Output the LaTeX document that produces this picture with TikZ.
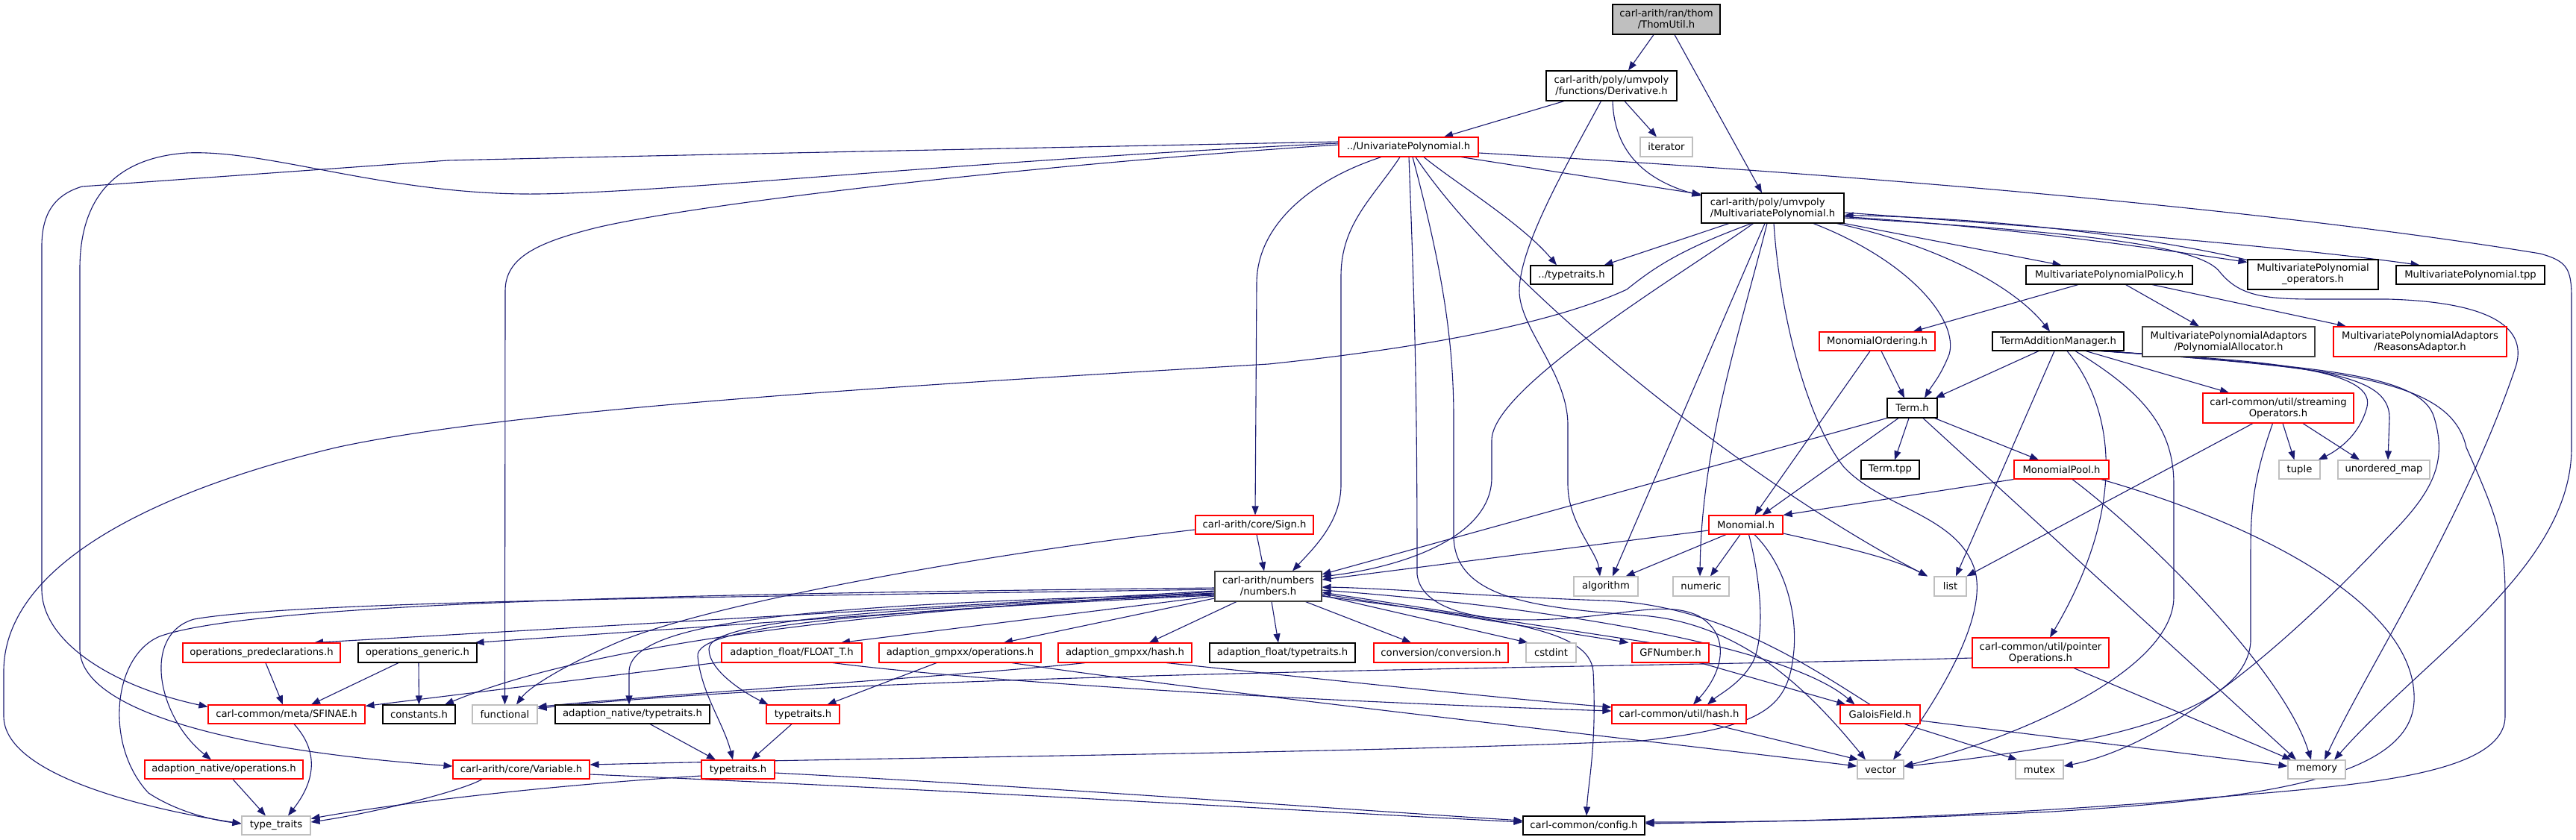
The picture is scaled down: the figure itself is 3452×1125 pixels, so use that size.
\documentclass[tikz,border=0pt]{standalone}
\usepackage{fontspec}
\setmainfont{DejaVu Sans}
\usetikzlibrary{arrows.meta}
\definecolor{edgec}{HTML}{191970}
\definecolor{greyn}{HTML}{BFBFBF}
\definecolor{dkb}{HTML}{404040}
\pgfdeclarelayer{bg}
\pgfsetlayers{bg,main}
\begin{document}
\begin{tikzpicture}[x=1pt,y=-1pt,
  font=\fontsize{13.2}{15}\selectfont,
  nb/.style={draw=black, line width=1.1pt, fill=white, inner sep=1pt, align=center, text=black},
  nr/.style={nb, draw=red},
  ng/.style={nb, draw=greyn},
  wh/.style 2 args={minimum width=#1pt, minimum height=#2pt},
  edg/.style={draw=edgec, line width=1.1pt, -{Triangle[length=12pt,width=9pt]}}]
\useasboundingbox (0,0) rectangle (3452,1125);
% nodes
\node[nb, fill=greyn, wh={144}{40}] (thom) at (2233,26) {carl-arith/ran/thom\\/ThomUtil.h};
\node[nb, wh={175}{40}] (deriv) at (2159.5,115) {carl-arith/poly/umvpoly\\/functions/Derivative.h};
\node[nr, wh={187}{26}] (univ) at (1887.5,197) {../UnivariatePolynomial.h};
\node[ng, wh={70}{26}] (iterator) at (2233,197) {iterator};
\node[nb, align=left, wh={191}{40}] (mp) at (2375.5,279) {carl-arith/poly/umvpoly\\/MultivariatePolynomial.h};
\node[nb, wh={110}{25}] (dtt) at (2106,368.5) {../typetraits.h};
\node[nb, wh={223}{25}] (policy) at (2826.5,368.5) {MultivariatePolynomialPolicy.h};
\node[nb, wh={175}{40}] (mpops) at (3099.5,368) {MultivariatePolynomial\\\_operators.h};
\node[nb, wh={199}{25}] (mptpp) at (3310.5,368.5) {MultivariatePolynomial.tpp};
\node[nr, wh={155}{25}] (monord) at (2515.5,457.5) {MonomialOrdering.h};
\node[nb, wh={176}{25}] (tam) at (2758,457.5) {TermAdditionManager.h};
\node[nb, draw=dkb, wh={231}{40}] (palloc) at (2986.5,458) {MultivariatePolynomialAdaptors\\/PolynomialAllocator.h};
\node[nr, wh={232}{40}] (reasons) at (3243,458) {MultivariatePolynomialAdaptors\\/ReasonsAdaptor.h};
\node[nb, wh={67}{26}] (term) at (2562.5,547) {Term.h};
\node[nr, wh={202}{40}] (stream) at (3053,547) {carl-common/util/streaming\\Operators.h};
\node[nr, wh={158}{25}] (sign) at (1681,703.5) {carl-arith/core/Sign.h};
\node[nb, draw=dkb, wh={143}{40}] (numbers) at (1699.5,786) {carl-arith/numbers\\/numbers.h};
\node[nb, wh={78}{25}] (termtpp) at (2533,629.5) {Term.tpp};
\node[nr, wh={127}{25}] (mpool) at (2762.5,629.5) {MonomialPool.h};
\node[ng, wh={55}{25}] (tuple) at (3081.5,629.5) {tuple};
\node[ng, wh={123}{25}] (umap) at (3194.5,629.5) {unordered\_map};
\node[nr, wh={99}{25}] (monomial) at (2339.5,703.5) {Monomial.h};
\node[ng, wh={86}{26}] (algorithm) at (2152,786) {algorithm};
\node[ng, wh={75}{26}] (numeric) at (2279.5,786) {numeric};
\node[ng, wh={43}{26}] (list) at (2613.5,786) {list};
\node[nr, wh={183}{40}] (pointer) at (2734.5,875) {carl-common/util/pointer\\Operations.h};
\node[nr, wh={211}{26}] (opspre) at (350.5,875) {operations\_predeclarations.h};
\node[nb, wh={159}{26}] (opsgen) at (559.5,875) {operations\_generic.h};
\node[nr, wh={188}{26}] (floatt) at (1061,875) {adaption\_float/FLOAT\_T.h};
\node[nr, wh={217}{26}] (gmpops) at (1286.5,875) {adaption\_gmpxx/operations.h};
\node[nr, wh={179}{26}] (gmphash) at (1507.5,875) {adaption\_gmpxx/hash.h};
\node[nb, wh={195}{26}] (floattt) at (1718.5,875) {adaption\_float/typetraits.h};
\node[nr, wh={180}{26}] (conv) at (1931,875) {conversion/conversion.h};
\node[ng, wh={67}{26}] (cstdint) at (2078.5,875) {cstdint};
\node[nr, wh={103}{26}] (gfnum) at (2238.5,875) {GFNumber.h};
\node[nr, wh={210}{25}] (sfinae) at (384,957.5) {carl-common/meta/SFINAE.h};
\node[nb, wh={97}{25}] (constants) at (561.5,957.5) {constants.h};
\node[ng, wh={87}{25}] (functional) at (676.5,957.5) {functional};
\node[nb, wh={207}{25}] (nattt) at (847.5,957.5) {adaption\_native/typetraits.h};
\node[nr, wh={98}{25}] (ttup) at (1076,957.5) {typetraits.h};
\node[nr, wh={180}{25}] (uhash) at (2250,957.5) {carl-common/util/hash.h};
\node[nr, wh={107}{25}] (galois) at (2519.5,957.5) {GaloisField.h};
\node[nr, wh={212}{25}] (natops) at (300,1031.5) {adaption\_native/operations.h};
\node[nr, wh={183}{25}] (variable) at (698.5,1031.5) {carl-arith/core/Variable.h};
\node[nr, wh={98}{25}] (ttlo) at (989,1031.5) {typetraits.h};
\node[ng, wh={62}{25}] (vector) at (2520,1031.5) {vector};
\node[ng, wh={64}{25}] (mutex) at (2733,1031.5) {mutex};
\node[ng, wh={77}{25}] (memory) at (3104.5,1031.5) {memory};
\node[ng, wh={92}{25}] (typetr) at (370,1106.5) {type\_traits};
\node[nb, wh={163}{25}] (config) at (2122.5,1106.5) {carl-common/config.h};
\begin{pgfonlayer}{bg}
\fill[white] (0,0) rectangle (3452,1125);
% thom
\draw[edg] ([xshift=-17]thom.south) -- ([xshift=22.5]deriv.north);
\draw[edg] ([xshift=11]thom.south) -- ([xshift=-14.5]mp.north);
% deriv
\draw[edg] ([xshift=-63.5]deriv.south) -- ([xshift=47.5]univ.north);
\draw[edg] ([xshift=17.5]deriv.south) -- ([xshift=-13]iterator.north);
\draw[edg] ([xshift=-14]deriv.south) .. controls (2100,220) and (2036,330) .. (2036,390) .. controls (2036,440) and (2101,500) .. (2101,570) -- (2101,650) .. controls (2101,700) and (2140,740) .. ([xshift=-8]algorithm.north);
\draw[edg] ([xshift=1.5]deriv.south) .. controls (2163,200) and (2200,240) .. ([yshift=-4]mp.north west);
% univ
\draw[edg] ([xshift=70.5]univ.south) -- ([yshift=-2]mp.north west);
\draw[edg] ([yshift=-8]univ.east) .. controls (2600,240) and (3100,290) .. (3404,340) .. controls (3440,350) and (3446,360) .. (3446,400) -- (3446,600) .. controls (3446,760) and (3250,880) .. ([xshift=23.5]memory.north);
\draw[edg] ([xshift=20.5]univ.south) .. controls (1950,245) and (2040,300) .. ([xshift=-20]dtt.north);
\draw[edg] ([xshift=9.5]univ.south) .. controls (2010,380) and (2330,640) .. ([xshift=-30.5]list.north);
\draw[edg] ([xshift=-11.5]univ.south) .. controls (1840,265) and (1797,300) .. (1797,370) -- (1797,650) .. controls (1797,700) and (1760,735) .. ([xshift=32.5]numbers.north);
\draw[edg] ([xshift=-36.5]univ.south) .. controls (1760,240) and (1684,300) .. (1684,380) -- ([xshift=1]sign.north);
\draw[edg] ([xshift=0.5]univ.south) .. controls (1895,400) and (1899,500) .. (1899,770) .. controls (1905,820) and (1990,835) .. (2080,830) .. controls (2180,825) and (2230,805) .. (2275,825) .. controls (2320,850) and (2310,900) .. ([xshift=19]uhash.north);
\draw[edg] ([xshift=5.5]univ.south) .. controls (1930,350) and (1948,450) .. (1948,560) -- (1948,720) .. controls (1950,800) and (2050,815) .. (2200,825) .. controls (2330,835) and (2420,920) .. ([xshift=-20]vector.north);
\draw[edg] ([yshift=7]univ.west) .. controls (1400,198) and (900,208) .. (600,215) -- (110,250) .. controls (70,262) and (56,290) .. (56,330) -- (56,790) .. controls (56,860) and (150,920) .. ([yshift=-3]sfinae.north west);
\draw[edg] ([yshift=5]univ.west) .. controls (1300,215) and (900,258) .. (720,260) .. controls (520,262) and (360,200) .. (250,205) .. controls (150,212) and (107,270) .. (107,360) -- (107,870) .. controls (107,950) and (300,1005) .. ([yshift=4.5]variable.west);
\draw[edg] ([yshift=3]univ.west) .. controls (1400,220) and (950,270) .. (800,305) .. controls (720,325) and (677,345) .. (677,390) -- (functional.north);
% MP
\draw[edg] ([xshift=-58.5]mp.south) -- ([xshift=-12]dtt.north east);
\draw[edg] ([xshift=-28.5]mp.south) .. controls (2250,335) and (2215,360) .. (2180,388) .. controls (2100,425) and (1950,462) .. (1700,488) .. controls (1300,512) and (700,545) .. (450,600) .. controls (200,660) and (5,760) .. (5,900) -- (5,960) .. controls (5,1040) and (200,1085) .. ([yshift=2.5]typetr.west);
\draw[edg] ([xshift=-26]mp.south) .. controls (2250,370) and (1999,520) .. (1999,590) -- (1999,640) .. controls (1999,720) and (1880,760) .. ([yshift=13]numbers.east);
\draw[edg] ([xshift=-10.5]mp.south) -- ([xshift=9]algorithm.north);
\draw[edg] ([xshift=-7.5]mp.south) .. controls (2330,450) and (2280,600) .. ([xshift=-1.5]numeric.north);
\draw[edg] ([xshift=1.5]mp.south) .. controls (2385,420) and (2420,560) .. (2470,625) .. controls (2520,680) and (2620,690) .. (2645,760) .. controls (2670,830) and (2580,960) .. ([xshift=17]vector.north);
\draw[edg] ([xshift=54.5]mp.south) .. controls (2560,350) and (2625,430) .. (2612,475) .. controls (2600,505) and (2590,515) .. ([xshift=16.5]term.north);
\draw[edg] (mp.south east) -- ([xshift=-64]policy.north);
\draw[edg] ([xshift=-10]mp.south east) .. controls (2600,330) and (2700,385) .. ([xshift=-11]tam.north);
\draw[edg] ([yshift=-11.5]mp.east) .. controls (2700,305) and (2900,335) .. ([yshift=-4]mpops.north west);
\draw[edg] ([yshift=-1]mpops.north west) .. controls (2900,322) and (2700,293) .. ([yshift=-9.5]mp.east);
\draw[edg] ([yshift=-6]mp.east) .. controls (2800,308) and (3100,335) .. ([xshift=-68]mptpp.north);
\draw[edg] ([yshift=-13]mp.east) .. controls (2800,312) and (2950,330) .. (2975,365) .. controls (3000,395) and (3030,401) .. (3100,401) -- (3200,401) .. controls (3340,405) and (3390,440) .. (3370,495) .. controls (3300,700) and (3170,900) .. ([xshift=10.5]memory.north);
% policy
\draw[edg] ([xshift=-41.5]policy.south) -- ([xshift=48]monord.north);
\draw[edg] ([xshift=22]policy.south) -- ([xshift=-39.5]palloc.north);
\draw[edg] ([xshift=57.5]policy.south) -- ([xshift=-99]reasons.north);
% monord
\draw[edg] ([xshift=-9.5]monord.south) -- ([xshift=12]monomial.north);
\draw[edg] ([xshift=5.5]monord.south) -- ([xshift=-10.5]term.north);
% tam
\draw[edg] ([xshift=-26]tam.south) -- ([xshift=-3]term.north east);
\draw[edg] ([xshift=-5]tam.south) -- ([xshift=7.5]list.north);
\draw[edg] ([xshift=12]tam.south) .. controls (2835,550) and (2850,680) .. ([xshift=12.5]pointer.north);
\draw[edg] ([xshift=23]tam.south) .. controls (2880,530) and (2913,580) .. (2913,650) -- (2913,800) .. controls (2913,900) and (2700,990) .. ([yshift=4.5]vector.east);
\draw[edg] ([xshift=37]tam.south) -- ([xshift=-66]stream.north);
\draw[edg] ([xshift=-33]tam.south east) .. controls (3000,482) and (3185,490) .. (3172,545) .. controls (3162,585) and (3130,605) .. ([xshift=-3]tuple.north east);
\draw[edg] ([xshift=-30]tam.south east) .. controls (3100,490) and (3202,500) .. (3202,560) -- ([xshift=5.5]umap.north);
\draw[edg] ([xshift=-28]tam.south east) .. controls (3100,492) and (3245,500) .. (3262,560) .. controls (3280,620) and (3260,660) .. (3200,720) .. controls (3050,880) and (2900,1000) .. ([yshift=4.5]mutex.east);
\draw[edg] ([xshift=-26]tam.south east) .. controls (3150,495) and (3285,510) .. (3305,600) .. controls (3345,690) and (3357,720) .. (3357,800) -- (3357,960) .. controls (3357,1050) and (3100,1055) .. (2900,1075) .. controls (2600,1097) and (2400,1101) .. ([yshift=2.5]config.east);
% term
\draw[edg] (term.south west) -- ([yshift=16]numbers.east);
\draw[edg] ([xshift=-18.5]term.south) -- ([xshift=22]monomial.north);
\draw[edg] ([xshift=-4.5]term.south) -- ([xshift=6]termtpp.north);
\draw[edg] ([xshift=14.5]term.south) -- ([xshift=-27.5]memory.north);
\draw[edg] ([xshift=-4]term.south east) -- ([xshift=-30.5]mpool.north);
% stream
\draw[edg] ([xshift=-34]stream.south) -- (list.north east);
\draw[edg] ([xshift=-7.5]stream.south) .. controls (3020,640) and (3016,680) .. (3016,740) -- (3016,860) .. controls (3010,960) and (2800,1000) .. ([yshift=4]vector.east);
\draw[edg] ([xshift=6]stream.south) -- ([xshift=-7]tuple.north);
\draw[edg] ([xshift=33]stream.south) -- ([xshift=-32.5]umap.north);
% mpool
\draw[edg] (mpool.south west) -- (monomial.north east);
\draw[edg] ([xshift=14.5]mpool.south) .. controls (2880,720) and (3060,900) .. ([xshift=-7.5]memory.north);
\draw[edg] ([xshift=-11]mpool.south east) .. controls (3050,710) and (3240,820) .. (3235,940) .. controls (3230,1050) and (3000,1072) .. (2750,1088) .. controls (2500,1100) and (2350,1102) .. ([yshift=4.5]config.east);
% monomial
\draw[edg] ([yshift=-7.5]monomial.west) -- ([yshift=9]numbers.east);
\draw[edg] ([xshift=-26.5]monomial.south) -- ([xshift=-17]algorithm.north east);
\draw[edg] ([xshift=-7.5]monomial.south) -- ([xshift=12.5]numeric.north);
\draw[edg] ([yshift=-11.5]monomial.east) .. controls (2480,735) and (2540,750) .. ([xshift=-30.5]list.north);
\draw[edg] ([xshift=4]monomial.south) .. controls (2360,780) and (2365,850) .. (2350,885) .. controls (2335,915) and (2305,930) .. ([xshift=38]uhash.north);
\draw[edg] ([xshift=11.5]monomial.south) .. controls (2395,760) and (2410,830) .. (2403,880) .. controls (2395,950) and (2360,975) .. (2200,993) .. controls (1800,1010) and (1200,1015) .. ([yshift=6.5]variable.east);
% sign
\draw[edg] ([xshift=3]sign.south) -- ([xshift=-5.5]numbers.north);
\draw[edg] ([yshift=-6.5]sign.west) .. controls (1300,745) and (950,810) .. (830,860) .. controls (760,890) and (710,920) .. ([xshift=15.5]functional.north);
% numbers
\draw[edg] ([yshift=-6]numbers.west) -- ([xshift=70.5]opspre.north);
\draw[edg] ([yshift=-7]numbers.west) -- ([xshift=-3]opsgen.north east);
\draw[edg] ([yshift=-9]numbers.west) .. controls (1200,815) and (800,860) .. ([xshift=-14.5]constants.north east);
\draw[edg] ([yshift=-10]numbers.west) .. controls (1100,810) and (845,830) .. (843,900) -- ([xshift=-4.5]nattt.north);
\draw[edg] ([yshift=-11]numbers.west) .. controls (1200,815) and (950,830) .. (950,870) .. controls (950,900) and (1000,930) .. ([xshift=3]ttup.north west);
\draw[edg] ([yshift=-12]numbers.west) .. controls (1150,820) and (930,840) .. (935,880) .. controls (940,930) and (970,970) .. ([xshift=-7]ttlo.north);
\draw[edg] ([yshift=-4]numbers.west) .. controls (1000,800) and (400,805) .. (260,830) .. controls (190,850) and (210,960) .. ([xshift=-17]natops.north);
\draw[edg] ([yshift=-2]numbers.west) .. controls (1000,795) and (350,805) .. (214,853) .. controls (150,880) and (140,1000) .. (199,1063) .. controls (240,1090) and (290,1100) .. ([yshift=2.5]typetr.west);
\draw[edg] ([yshift=-13]numbers.west) -- ([xshift=66]floatt.north);
\draw[edg] ([yshift=-16]numbers.west) -- ([xshift=58.5]gmpops.north);
\draw[edg] ([xshift=-42.5]numbers.south) -- ([xshift=32.5]gmphash.north);
\draw[edg] ([xshift=4.5]numbers.south) -- ([xshift=-5.5]floattt.north);
\draw[edg] ([xshift=50]numbers.south) -- ([xshift=-40]conv.north);
\draw[edg] ([yshift=-12]numbers.east) -- ([xshift=3]cstdint.north west);
\draw[edg] ([yshift=-10]numbers.east) -- ([xshift=-4]gfnum.north west);
\draw[edg] ([xshift=-27.5]gfnum.north) -- ([yshift=-8]numbers.east);
\draw[edg] ([yshift=-5]numbers.east) .. controls (2100,815) and (2400,870) .. ([xshift=20]galois.north west);
\draw[edg] ([xshift=-13.5]galois.north) .. controls (2420,890) and (2300,810) .. (2150,805) .. controls (2000,800) and (1850,788) .. ([yshift=-1]numbers.east);
\draw[edg] ([yshift=-13]numbers.east) .. controls (2000,830) and (2130,840) .. (2135,900) .. controls (2140,1000) and (2128,1050) .. ([xshift=3.5]config.north);
% gfnum
\draw[edg] ([xshift=-12]gfnum.south east) -- ([xshift=8]galois.north west);
% ops
\draw[edg] ([xshift=5.5]opspre.south) -- ([xshift=-5]sfinae.north);
\draw[edg] ([xshift=-25.5]opsgen.south) -- ([xshift=33]sfinae.north);
\draw[edg] ([xshift=1.5]opsgen.south) -- ([xshift=0]constants.north);
% floatt
\draw[edg] ([yshift=1]floatt.south west) -- ([yshift=-2]sfinae.north east);
\draw[edg] ([xshift=55]floatt.south) .. controls (1300,912) and (1700,938) .. ([yshift=4.5]uhash.west);
% gmp
\draw[edg] ([xshift=-31.5]gmpops.south) -- ([xshift=-17]ttup.north east);
\draw[edg] ([xshift=69.5]gmpops.south) .. controls (1600,925) and (2200,992) .. ([yshift=4.5]vector.west);
\draw[edg] ([xshift=-53.5]gmphash.south) .. controls (1300,905) and (900,930) .. ([yshift=-3]functional.north east);
\draw[edg] ([xshift=55.5]gmphash.south) .. controls (1750,908) and (2000,935) .. ([yshift=9.5]uhash.west);
% pointer
\draw[edg] ([yshift=-7]pointer.west) .. controls (2200,895) and (1200,900) .. ([yshift=-5]functional.north east);
\draw[edg] ([xshift=44.5]pointer.south) -- ([xshift=5]memory.north west);
% galois
\draw[edg] ([yshift=-8.5]galois.east) -- ([yshift=4.5]memory.west);
\draw[edg] ([xshift=32.5]galois.south) -- ([xshift=3]mutex.north west);
% uhash
\draw[edg] ([xshift=44]uhash.south) -- ([xshift=2]vector.north west);
% typetraits
\draw[edg] ([xshift=23.5]nattt.south) -- ([xshift=-30]ttlo.north);
\draw[edg] ([xshift=-15]ttup.south) -- ([xshift=18]ttlo.north);
\draw[edg] ([yshift=-8.5]ttlo.west) .. controls (700,1055) and (500,1082) .. ([yshift=-4]typetr.north east);
\draw[edg] ([xshift=-52.5]variable.south) .. controls (620,1060) and (500,1090) .. ([yshift=4.5]typetr.east);
\draw[edg] ([yshift=-4.5]ttlo.east) .. controls (1400,1055) and (1800,1085) .. ([yshift=6.5]config.west);
\draw[edg] ([yshift=-6.5]variable.east) .. controls (1300,1060) and (1800,1090) .. ([yshift=4.5]config.west);
\draw[edg] ([xshift=12]natops.south) -- ([xshift=-14]typetr.north);
\draw[edg] ([xshift=10]sfinae.south) .. controls (430,1010) and (420,1050) .. ([xshift=16]typetr.north);
\end{pgfonlayer}
\end{tikzpicture}
\end{document}
